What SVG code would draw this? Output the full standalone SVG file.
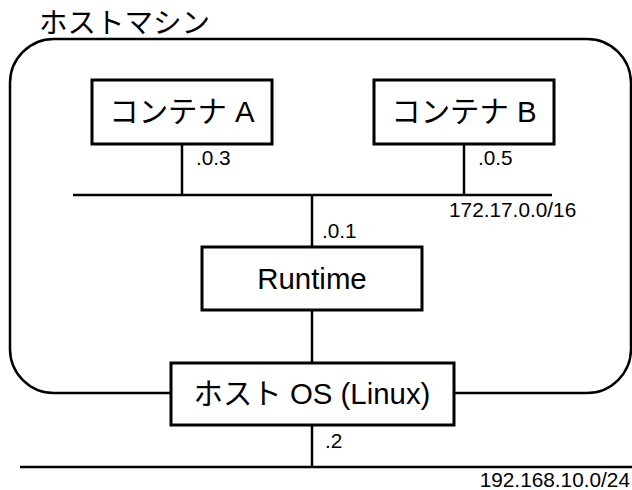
<svg xmlns="http://www.w3.org/2000/svg" width="632" height="490" viewBox="0 0 632 490">
  <style>
    .box { fill: #ffffff; stroke: #000000; stroke-width: 3; }
    .frame { fill: none; stroke: #000000; stroke-width: 2.5; }
    .wire { fill: none; stroke: #000000; stroke-width: 2.5; }
    .main { font-family: "Liberation Sans", "Noto Sans CJK JP", sans-serif; font-size: 29.4px; fill: #000000; }
    .title { font-family: "Liberation Sans", "Noto Sans CJK JP", sans-serif; font-size: 28.5px; fill: #000000; }
    .lbl { font-family: "Liberation Sans", "Noto Sans CJK JP", sans-serif; font-size: 20.8px; fill: #000000; }
  </style>

  <!-- host machine boundary -->
  <g id="host-machine">
    <rect class="frame" x="10" y="39" width="621" height="354" rx="44" ry="44"/>
    <text class="title" x="39" y="33">ホストマシン</text>
  </g>

  <!-- connectors and network segments -->
  <g id="connectors">
    <line class="wire" x1="73" y1="195" x2="552" y2="195"/>
    <line class="wire" x1="182" y1="144" x2="182" y2="195"/>
    <line class="wire" x1="464" y1="144" x2="464" y2="195"/>
    <line class="wire" x1="312" y1="195" x2="312" y2="247"/>
    <line class="wire" x1="312" y1="310" x2="312" y2="363"/>
    <line class="wire" x1="312" y1="425" x2="312" y2="467"/>
    <line class="wire" x1="20" y1="467" x2="632" y2="467"/>
    <text class="lbl" x="196" y="165">.0.3</text>
    <text class="lbl" x="478" y="165">.0.5</text>
    <text class="lbl" x="449" y="217">172.17.0.0/16</text>
    <text class="lbl" x="322" y="238">.0.1</text>
    <text class="lbl" x="325" y="448">.2</text>
    <text class="lbl" x="630" y="487" text-anchor="end">192.168.10.0/24</text>
  </g>

  <g id="container-a">
    <rect class="box" x="92" y="80" width="180" height="64"/>
    <text class="main" x="182" y="122" text-anchor="middle">コンテナ A</text>
  </g>

  <g id="container-b">
    <rect class="box" x="374" y="80" width="180" height="64"/>
    <text class="main" x="464" y="122" text-anchor="middle">コンテナ B</text>
  </g>

  <g id="runtime">
    <rect class="box" x="202" y="247" width="220" height="63"/>
    <text class="main" x="312" y="289" text-anchor="middle">Runtime</text>
  </g>

  <g id="host-os">
    <rect class="box" x="171" y="363" width="283" height="62"/>
    <text class="main" x="312" y="404" text-anchor="middle">ホスト OS (Linux)</text>
  </g>
</svg>
